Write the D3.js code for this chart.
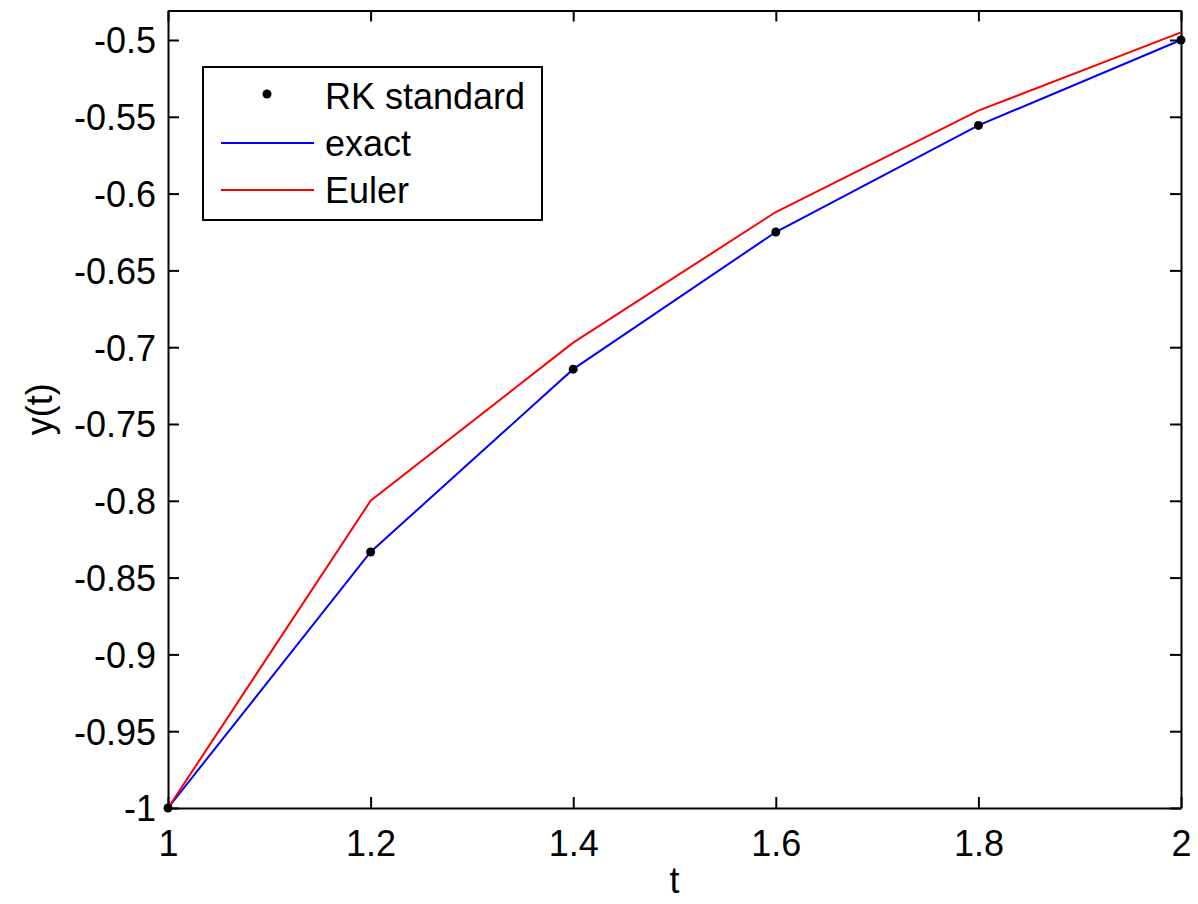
<!DOCTYPE html>
<html>
<head>
<meta charset="utf-8">
<script src="https://cdn.jsdelivr.net/npm/d3@7"></script>
<style>
  body { margin: 0; background: #fff; }
  svg text { font-family: "Liberation Sans", Arial, sans-serif; fill: #000; }
</style>
</head>
<body>
<div id="chart"></div>
<script>
// data
var tValues = [1, 1.2, 1.4, 1.6, 1.8, 2];
var exactValues = [-1, -0.8333, -0.7143, -0.625, -0.5556, -0.5];
var rkValues = [-1, -0.8333, -0.7143, -0.625, -0.5556, -0.5];
var eulerValues = [-1, -0.8, -0.697, -0.612, -0.546, -0.495];
var xTicks = [1, 1.2, 1.4, 1.6, 1.8, 2];
var yTicks = [-1, -0.95, -0.9, -0.85, -0.8, -0.75, -0.7, -0.65, -0.6, -0.55, -0.5];
var legendItems = [
  {label: "RK standard", type: "dot", color: "#000"},
  {label: "exact", type: "line", color: "#0000ff"},
  {label: "Euler", type: "line", color: "#ff0000"}
];

var width = 1198, height = 904;
var margin = {left: 168, right: 17, top: 10.5, bottom: 96};
var fontSize = 36;
var tickLen = 11;

var svg = d3.select("#chart").append("svg")
  .attr("width", width)
  .attr("height", height);

var x = d3.scaleLinear().domain([1, 2]).range([margin.left, width - margin.right]);
var y = d3.scaleLinear().domain([-1, -0.4808]).range([height - margin.bottom, margin.top]);

var g = svg.append("g");

// axes with inward ticks on all four sides (matlab box)
var fmt = function(d){ return String(+d.toFixed(2)); };

var bottom = g.append("g")
  .attr("transform", "translate(0," + y.range()[0] + ")")
  .call(d3.axisBottom(x).tickValues(xTicks).tickSizeInner(-tickLen).tickSizeOuter(0).tickFormat(fmt));
bottom.selectAll("text").attr("y", 22).attr("dy", "0.71em").style("font-size", fontSize + "px");

var left = g.append("g")
  .attr("transform", "translate(" + x.range()[0] + ",0)")
  .call(d3.axisLeft(y).tickValues(yTicks).tickSizeInner(-tickLen).tickSizeOuter(0).tickFormat(fmt));
left.selectAll("text").attr("x", -12).attr("dy", "0.36em").style("font-size", fontSize + "px");

var top = g.append("g")
  .attr("transform", "translate(0," + y.range()[1] + ")")
  .call(d3.axisTop(x).tickValues(xTicks).tickSizeInner(-tickLen).tickSizeOuter(0).tickFormat(""));

var right = g.append("g")
  .attr("transform", "translate(" + x.range()[1] + ",0)")
  .call(d3.axisRight(y).tickValues(yTicks).tickSizeInner(-tickLen).tickSizeOuter(0).tickFormat(""));

g.selectAll(".domain").attr("stroke", "#000").attr("stroke-width", 2);
g.selectAll(".tick line").attr("stroke", "#000").attr("stroke-width", 2);

// lines
var line = d3.line()
  .x(function(d){ return x(d[0]); })
  .y(function(d){ return y(d[1]); });

svg.append("path")
  .datum(d3.zip(tValues, exactValues))
  .attr("d", line)
  .attr("fill", "none")
  .attr("stroke", "#0000ff")
  .attr("stroke-width", 2);

svg.append("path")
  .datum(d3.zip(tValues, eulerValues))
  .attr("d", line)
  .attr("fill", "none")
  .attr("stroke", "#ff0000")
  .attr("stroke-width", 2);

svg.append("g").selectAll("circle")
  .data(d3.zip(tValues, rkValues))
  .enter().append("circle")
  .attr("cx", function(d){ return x(d[0]); })
  .attr("cy", function(d){ return y(d[1]); })
  .attr("r", 4.5)
  .attr("fill", "#000");

// axis labels
svg.append("text")
  .attr("x", (x.range()[0] + x.range()[1]) / 2)
  .attr("y", 893)
  .attr("text-anchor", "middle")
  .style("font-size", fontSize + "px")
  .text("t");

svg.append("text")
  .attr("transform", "translate(52," + ((y.range()[0] + y.range()[1]) / 2) + ") rotate(-90)")
  .attr("text-anchor", "middle")
  .style("font-size", fontSize + "px")
  .text("y(t)");

// legend
var legend = svg.append("g").attr("transform", "translate(203,67)");
legend.append("rect")
  .attr("width", 339)
  .attr("height", 153)
  .attr("fill", "#fff")
  .attr("stroke", "#000")
  .attr("stroke-width", 2);

var rows = legend.selectAll("g.row")
  .data(legendItems)
  .enter().append("g")
  .attr("class", "row")
  .attr("transform", function(d, i){ return "translate(0," + (29 + i * 47) + ")"; });

rows.each(function(d){
  var r = d3.select(this);
  if (d.type === "dot") {
    r.append("circle").attr("cx", 64).attr("cy", -2).attr("r", 4.5).attr("fill", d.color);
  } else {
    r.append("line").attr("x1", 18).attr("x2", 111).attr("y1", 0).attr("y2", 0)
      .attr("stroke", d.color).attr("stroke-width", 2);
  }
  r.append("text")
    .attr("x", 122)
    .attr("dy", "0.36em")
    .style("font-size", fontSize + "px")
    .text(d.label);
});
</script>
</body>
</html>
